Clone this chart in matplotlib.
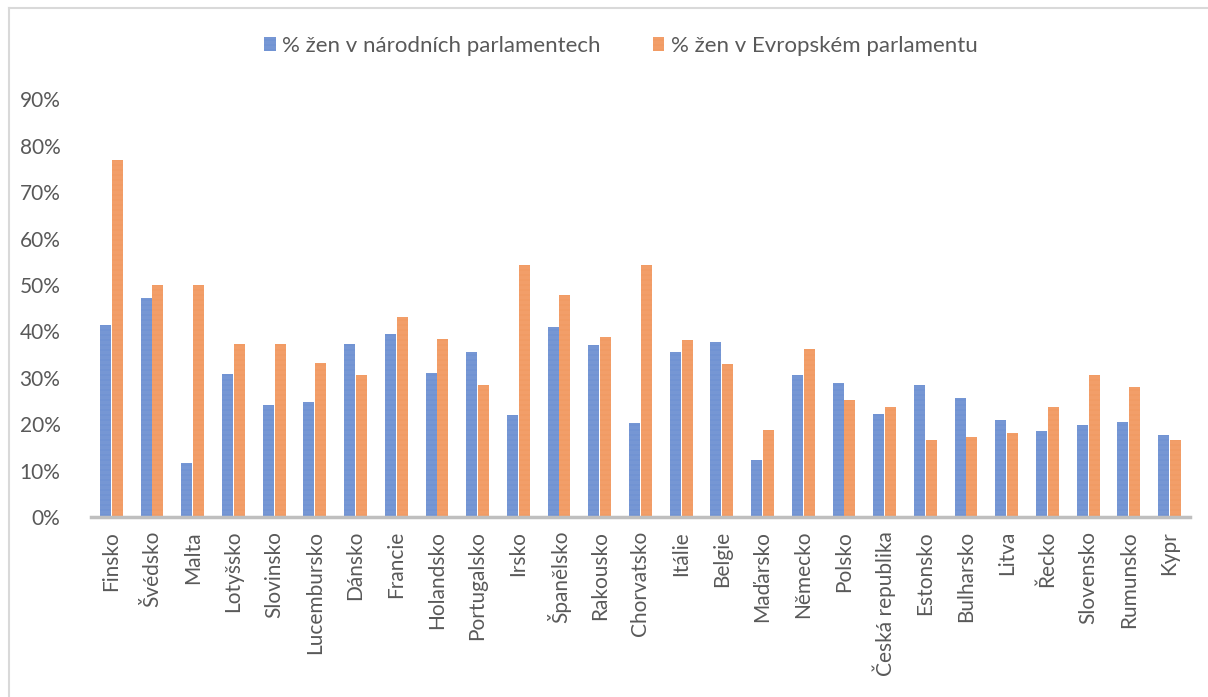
import matplotlib
matplotlib.use("Agg")
import matplotlib.pyplot as plt
import numpy as np
from matplotlib.lines import Line2D
from matplotlib.patches import Patch

plt.rcParams['font.family'] = ['Lato', 'DejaVu Sans']
plt.rcParams['hatch.linewidth'] = 0.5

countries = ['Finsko', 'Švédsko', 'Malta', 'Lotyšsko', 'Slovinsko', 'Lucembursko',
             'Dánsko', 'Francie', 'Holandsko', 'Portugalsko', 'Irsko', 'Španělsko',
             'Rakousko', 'Chorvatsko', 'Itálie', 'Belgie', 'Maďarsko', 'Německo',
             'Polsko', 'Česká republika', 'Estonsko', 'Bulharsko', 'Litva', 'Řecko',
             'Slovensko', 'Rumunsko', 'Kypr']
# národní parlamenty (%)
national = [41.3, 47.1, 11.7, 30.8, 24.1, 24.7, 37.3, 39.5, 31.0, 35.5, 21.9, 40.9,
            37.0, 20.3, 35.5, 37.8, 12.3, 30.6, 28.8, 22.2, 28.5, 25.6, 21.0, 18.5,
            19.8, 20.5, 17.6]
# Evropský parlament (%)
european = [76.9, 50.0, 50.0, 37.3, 37.3, 33.1, 30.6, 43.1, 38.3, 28.4, 54.3, 47.9,
            38.7, 54.3, 38.1, 33.0, 18.7, 36.3, 25.3, 23.7, 16.5, 17.3, 18.0, 23.7,
            30.6, 28.0, 16.5]

label_nat = '% žen v národních parlamentech'
label_eu = '% žen v Evropském parlamentu'

blue = '#3f6cc0'
blue_stripe = '#7f9ed8'
orange = '#ec7629'
orange_stripe = '#f3a574'
txt = '#595959'
stripes = '-' * 20

fig = plt.figure(figsize=(12.08, 6.97), dpi=100)
ax = fig.add_axes([0.0753, 0.2582, 0.9097, 0.5993])

x = np.arange(len(countries))
w = 0.27
ax.bar(x - 0.145, np.array(national) / 100, w, color=blue, edgecolor=blue_stripe,
       linewidth=0, hatch=stripes)
ax.bar(x + 0.145, np.array(european) / 100, w, color=orange, edgecolor=orange_stripe,
       linewidth=0, hatch=stripes)

ax.set_xlim(-0.5, len(countries) - 0.5)
ax.set_ylim(0, 0.9)
ax.set_yticks(np.arange(0, 0.91, 0.1))
ax.set_yticklabels([f'{int(round(v * 100))}%' for v in np.arange(0, 0.91, 0.1)])
ax.set_xticks(x)
ax.set_xticklabels(countries, rotation=90)
ax.tick_params(axis='both', length=0, labelsize=15, colors=txt)
ax.tick_params(axis='y', pad=22)
ax.tick_params(axis='x', pad=10)
for s in ['top', 'right', 'left']:
    ax.spines[s].set_visible(False)
ax.spines['bottom'].set_color('#bfbfbf')
ax.spines['bottom'].set_linewidth(2.5)

handles = [Patch(facecolor=blue, edgecolor=blue_stripe, linewidth=0, hatch=stripes),
           Patch(facecolor=orange, edgecolor=orange_stripe, linewidth=0, hatch=stripes)]
fig.legend(handles, [label_nat, label_eu], loc='center', bbox_to_anchor=(0.514, 0.934),
           ncol=2, frameon=False, fontsize=16, labelcolor=txt, handlelength=0.5,
           handleheight=0.55, handletextpad=0.3, columnspacing=2.35)

# rámeček grafu
fig.add_artist(Line2D([9 / 1208, 9 / 1208], [0, 1 - 8 / 697], color='#d9d9d9', linewidth=1.5))
fig.add_artist(Line2D([9 / 1208, 1], [1 - 8 / 697, 1 - 8 / 697], color='#d9d9d9', linewidth=1.5))

fig.savefig('out.png', dpi=100)
